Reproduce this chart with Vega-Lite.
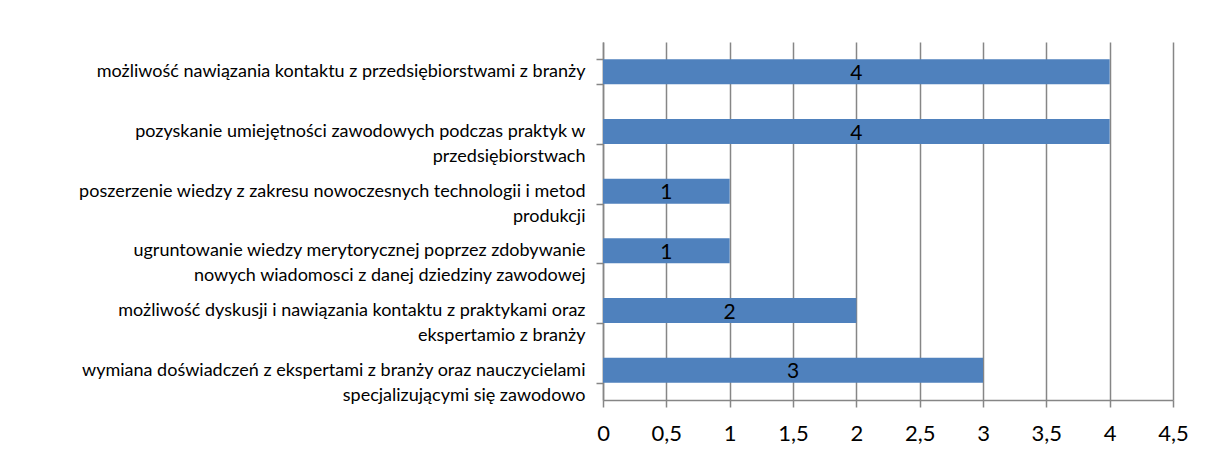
{
  "$schema": "https://vega.github.io/schema/vega-lite/v6.json",
  "width": 570,
  "height": 358,
  "autosize": "none",
  "padding": {"left": 603, "top": 42, "right": 33, "bottom": 57},
  "background": "white",
  "config": {"view": {"stroke": null}},
  "data": {"values": [
    {"kategoria": "możliwość nawiązania kontaktu z przedsiębiorstwami z branży", "liczba": 4},
    {"kategoria": "pozyskanie umiejętności zawodowych podczas praktyk w|przedsiębiorstwach", "liczba": 4},
    {"kategoria": "poszerzenie wiedzy z zakresu nowoczesnych technologii i metod|produkcji", "liczba": 1},
    {"kategoria": "ugruntowanie wiedzy merytorycznej poprzez zdobywanie|nowych wiadomosci z danej dziedziny zawodowej", "liczba": 1},
    {"kategoria": "możliwość dyskusji i nawiązania kontaktu z praktykami oraz|ekspertamio z branży", "liczba": 2},
    {"kategoria": "wymiana doświadczeń z ekspertami z branży oraz nauczycielami|specjalizującymi się zawodowo", "liczba": 3}
  ]},
  "encoding": {
    "y": {
      "field": "kategoria",
      "type": "nominal",
      "sort": null,
      "scale": {"paddingInner": 0.58, "paddingOuter": 0.29},
      "axis": {
        "title": null,
        "tickBand": "extent",
        "labelExpr": "split(datum.label, '|')",
        "labelFont": "Lato",
        "labelFontSize": 18,
        "labelColor": "black",
        "labelLineHeight": 25,
        "labelBaseline": "middle",
        "labelLimit": 0,
        "labelPadding": 11,
        "tickSize": 7,
        "tickColor": "#868686",
        "tickWidth": 1.5,
        "domainColor": "#868686",
        "domainWidth": 1.5,
        "grid": false
      }
    }
  },
  "layer": [
    {
      "mark": {"type": "bar", "color": "#4F81BD"},
      "encoding": {
        "x": {
          "field": "liczba",
          "type": "quantitative",
          "scale": {"domain": [0, 4.5]},
          "axis": {
            "title": null,
            "values": [0, 0.5, 1, 1.5, 2, 2.5, 3, 3.5, 4, 4.5],
            "labelExpr": "replace(format(datum.value, ''), '.', ',')",
            "grid": true,
            "gridColor": "#868686",
            "gridWidth": 1.5,
            "tickSize": 7,
            "tickColor": "#868686",
            "tickWidth": 1.5,
            "domainColor": "#868686",
            "domainWidth": 1.5,
            "labelFont": "Lato",
            "labelFontSize": 22,
            "labelColor": "black",
            "labelPadding": 16,
            "labelFlush": false
          }
        }
      }
    },
    {
      "mark": {"type": "text", "font": "Lato", "fontSize": 21, "color": "black", "baseline": "middle", "dy": 2},
      "encoding": {
        "x": {"field": "liczba", "type": "quantitative", "stack": "zero", "bandPosition": 0.5},
        "text": {"field": "liczba", "type": "quantitative"}
      }
    }
  ]
}
